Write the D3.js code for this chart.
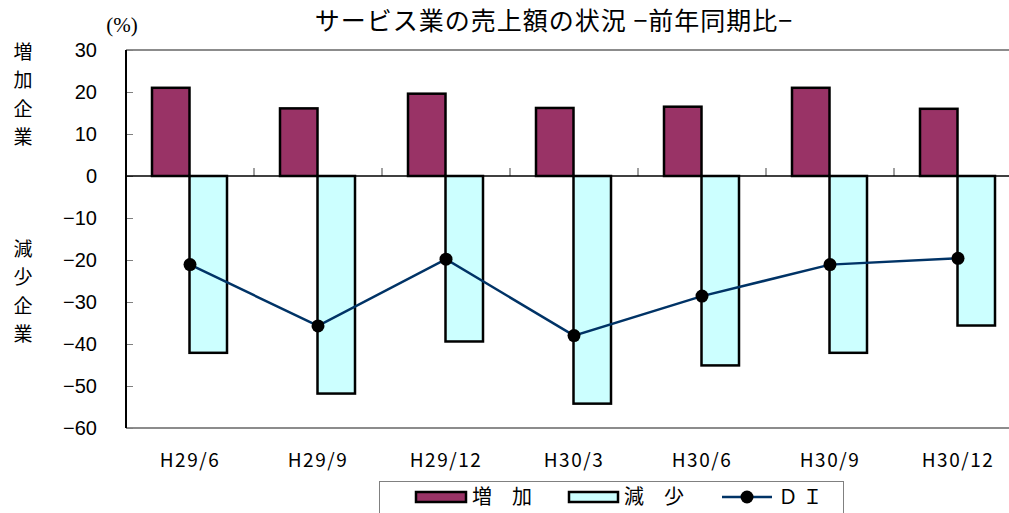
<!DOCTYPE html>
<html>
<head>
<meta charset="utf-8">
<script src="https://cdn.jsdelivr.net/npm/d3@7"></script>
<style>
  html, body { margin: 0; padding: 0; background: #fff; }
  svg { display: block; }
  text { fill: #000; }
</style>
</head>
<body>
<svg id="chart" width="1009" height="513"></svg>
<script>
// Sales of service industry, change vs. same period of previous year
const categories = ["H29/6", "H29/9", "H29/12", "H30/3", "H30/6", "H30/9", "H30/12"];
const increase = [21.0, 16.1, 19.6, 16.2, 16.5, 21.0, 16.0];
const decrease = [-42.1, -51.8, -39.4, -54.2, -45.1, -42.1, -35.6];
const di = [-21.1, -35.7, -19.8, -38.0, -28.6, -21.1, -19.6];
const yTicks = [30, 20, 10, 0, -10, -20, -30, -40, -50, -60];
const seriesNames = ["増　加", "減　少", "Ｄ Ｉ"];

const colors = { inc: "#993366", dec: "#CCFFFF", line: "#003366" };
const JP = "'Noto Sans CJK JP', 'Noto Sans', sans-serif";
const LAT = "'Liberation Sans', Arial, sans-serif";

const svg = d3.select("#chart");
const plot = { left: 126, right: 1022, top: 50, bottom: 428 };

const y = d3.scaleLinear().domain([-60, 30]).range([plot.bottom, plot.top]);
const x = d3.scaleBand().domain(categories).range([plot.left, plot.right]).padding(0);
const sub = d3.scaleBand().domain(["inc", "dec"]).range([26, x.bandwidth() - 27]).padding(0);

// Plot frame: gray top & bottom, black left axis
svg.append("line").attr("x1", plot.left).attr("x2", plot.right)
  .attr("y1", plot.top).attr("y2", plot.top).attr("stroke", "#8c8c8c").attr("stroke-width", 2);
svg.append("line").attr("x1", plot.left).attr("x2", plot.right)
  .attr("y1", plot.bottom).attr("y2", plot.bottom).attr("stroke", "#8c8c8c").attr("stroke-width", 2);

// Y axis
const yAxis = d3.axisRight(y).tickValues(yTicks).tickSize(7).tickFormat("");
const yg = svg.append("g").attr("transform", `translate(${plot.left},0)`).call(yAxis);
yg.select(".domain").remove();
yg.selectAll(".tick line").attr("stroke", "#808080").attr("stroke-width", 1);
svg.append("line").attr("x1", plot.left).attr("x2", plot.left)
  .attr("y1", plot.top).attr("y2", plot.bottom).attr("stroke", "#000").attr("stroke-width", 2);

svg.append("g").selectAll("text").data(yTicks).join("text")
  .attr("x", 97).attr("y", d => y(d)).attr("dy", "0.36em")
  .attr("text-anchor", "end").style("font-family", LAT).style("font-size", "20px")
  .text(d => d < 0 ? "−" + Math.abs(d) : String(d));

// Category separators above zero line
svg.append("g").selectAll("line").data(categories.slice(1)).join("line")
  .attr("x1", d => x(d)).attr("x2", d => x(d))
  .attr("y1", y(0) - 8).attr("y2", y(0))
  .attr("stroke", "#808080").attr("stroke-width", 1.5);

// Bars
const bars = svg.append("g");
bars.selectAll("rect.inc").data(categories).join("rect").attr("class", "inc")
  .attr("x", d => x(d) + sub("inc"))
  .attr("width", sub.bandwidth())
  .attr("y", (d, i) => y(Math.max(0, increase[i])))
  .attr("height", (d, i) => Math.abs(y(increase[i]) - y(0)))
  .attr("fill", colors.inc).attr("stroke", "#000").attr("stroke-width", 2.5);
bars.selectAll("rect.dec").data(categories).join("rect").attr("class", "dec")
  .attr("x", d => x(d) + sub("dec"))
  .attr("width", sub.bandwidth())
  .attr("y", (d, i) => y(Math.max(0, decrease[i])))
  .attr("height", (d, i) => Math.abs(y(decrease[i]) - y(0)))
  .attr("fill", colors.dec).attr("stroke", "#000").attr("stroke-width", 2.5);

// Zero line
svg.append("line").attr("x1", plot.left).attr("x2", plot.right)
  .attr("y1", y(0)).attr("y2", y(0)).attr("stroke", "#000").attr("stroke-width", 1.5);

// DI line
const cx = d => x(d) + x.bandwidth() / 2;
const line = d3.line().x((d, i) => cx(categories[i])).y(d => y(d));
svg.append("path").datum(di).attr("d", line)
  .attr("fill", "none").attr("stroke", colors.line).attr("stroke-width", 2.5);
svg.append("g").selectAll("circle").data(di).join("circle")
  .attr("cx", (d, i) => cx(categories[i])).attr("cy", d => y(d)).attr("r", 6.5)
  .attr("fill", "#000");

// X labels
svg.append("g").selectAll("text").data(categories).join("text")
  .attr("x", d => cx(d)).attr("y", 467)
  .attr("text-anchor", "middle")
  .style("font-family", JP).style("font-size", "19px")
  .style("letter-spacing", "1.5px")
  .text(d => d);

// Title & unit
svg.append("text").attr("x", 554).attr("y", 30).attr("text-anchor", "middle")
  .style("font-family", JP).style("font-size", "25px")
  .style("letter-spacing", "1px")
  .text("サービス業の売上額の状況 −前年同期比−");
svg.append("text").attr("x", 122).attr("y", 32).attr("text-anchor", "middle")
  .style("font-family", "'Liberation Serif', 'DejaVu Serif', serif").style("font-size", "21px")
  .text("(%)");

// Side labels (vertical)
const sideLabel = (chars, y0) => svg.append("g").selectAll("text").data(chars).join("text")
  .attr("x", 23).attr("y", (d, i) => y0 + i * 28.5).attr("dy", "0.36em")
  .attr("text-anchor", "middle")
  .style("font-family", JP).style("font-size", "19px")
  .text(d => d);
sideLabel(["増", "加", "企", "業"], 52);
sideLabel(["減", "少", "企", "業"], 249);

// Legend
const lg = svg.append("g");
lg.append("rect").attr("x", 379.5).attr("y", 481.5).attr("width", 464).attr("height", 40)
  .attr("fill", "#fff").attr("stroke", "#808080").attr("stroke-width", 1);
lg.append("rect").attr("x", 416).attr("y", 492).attr("width", 50).attr("height", 10)
  .attr("fill", colors.inc).attr("stroke", "#000").attr("stroke-width", 2.5);
lg.append("rect").attr("x", 569).attr("y", 492).attr("width", 49).attr("height", 10)
  .attr("fill", colors.dec).attr("stroke", "#000").attr("stroke-width", 2.5);
lg.append("line").attr("x1", 722).attr("x2", 772).attr("y1", 497).attr("y2", 497)
  .attr("stroke", colors.line).attr("stroke-width", 2.5);
lg.append("circle").attr("cx", 747).attr("cy", 497).attr("r", 6.5).attr("fill", "#000");
lg.selectAll("text").data(seriesNames).join("text")
  .attr("x", (d, i) => [472, 624, 778][i]).attr("y", 497).attr("dy", "0.36em")
  .style("font-family", JP).style("font-size", "20px")
  .text(d => d);
</script>
</body>
</html>
